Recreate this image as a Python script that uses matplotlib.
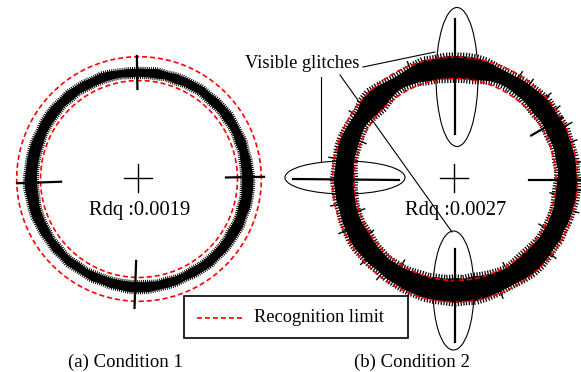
import matplotlib
matplotlib.use('Agg')
import matplotlib.pyplot as plt
import matplotlib.patheffects as pe
import numpy as np
from matplotlib.patches import Ellipse, Rectangle

plt.rcParams['font.family'] = ['Liberation Serif', 'DejaVu Serif']

# ---- data (pixel units, angle 0 = east, counter-clockwise)
angles = np.arange(0, 360, 5)

centers = [(139, 179), (455, 179.5)]            # centre of trace / limit circles
cross_pos = [(138, 178), (454, 178)]
limit_radii = [(98.5, 122.3), (101, 122.5)]     # recognition limit circles
rdq_values = ['0.0019', '0.0027']
captions = ['(a) Condition 1', '(b) Condition 2']

outer_a = [114, 113, 113, 112, 113, 112, 112, 113, 112, 112, 111, 112, 111, 111, 111, 110, 111, 110,
           110, 110, 110, 111, 112, 111, 112, 112, 113, 112, 113, 113, 113, 112, 113, 113, 113, 113,
           114, 114, 113, 113, 113, 112, 112, 111, 112, 111, 112, 111, 111, 112, 111, 112, 112, 113,
           113, 113, 112, 112, 112, 111, 112, 112, 113, 112, 113, 113, 113, 114, 113, 114, 114, 114]
inner_a = [103.5, 103.5, 103.5, 104.5, 103.5, 104.5, 104.5, 103.5, 104.5, 103.5, 103.5, 104.5,
           103.5, 103.5, 102.5, 103.5, 102.5, 102.5, 102.5, 102.5, 103.5, 103.5, 103.5, 103.5,
           103.5, 104.5, 103.5, 104.5, 103.5, 103.5, 103.5, 103.5, 102.5, 102.5, 102.5, 102.5,
           102.5, 102.5, 102.5, 103.5, 103.5, 103.5, 103.5, 104.5, 103.5, 104.5, 104.5, 103.5,
           104.5, 103.5, 103.5, 103.5, 103.5, 103.5, 103.5, 103.5, 104.5, 103.5, 104.5, 104.5,
           103.5, 104.5, 104.5, 104.5, 104.5, 104.5, 103.5, 104.5, 104.5, 103.5, 104.5, 103.5]

outer_b = [122, 121, 122, 121, 121, 122, 121, 121, 122, 121, 120, 120, 119, 119, 120, 122, 123, 123,
           123, 123, 122, 123, 121, 119, 118, 119, 121, 123, 122, 119, 119, 120, 121, 121, 120, 120,
           121, 120, 120, 119, 120, 120, 121, 121, 120, 120, 119, 120, 120, 121, 121, 122, 122, 122,
           123, 122, 123, 122, 121, 120, 120, 121, 122, 122, 121, 120, 121, 120, 121, 121, 122, 122]
inner_b = [103, 104, 103, 104, 104, 103, 104, 104, 103, 104, 105, 105, 106, 106, 105, 103, 101, 101,
           101, 101, 102, 102, 104, 105, 106, 105, 103, 101, 102, 104, 105, 104, 103, 103, 103, 102,
           101, 102, 102, 103, 103, 103, 102, 102, 103, 103, 104, 103, 103, 102, 101, 101, 100, 100,
           99, 100, 99, 100, 101, 102, 103, 102, 101, 101, 102, 103, 103, 103, 103, 103, 102, 102]

# noise spikes on trace (b): angle, r from, r to
spikes_b = [(8, 112, 129), (18, 110, 128), (26, 112, 130), (35, 110, 128), (42, 112, 129),
            (52, 110, 127), (58, 108, 127), (112, 108, 127), (147, 108, 126), (158, 96, 110),
            (170, 110, 128), (192, 108, 127), (198, 95, 108), (205, 110, 128), (212, 96, 108),
            (222, 110, 127), (232, 108, 127), (238, 95, 108), (248, 110, 128), (292, 110, 128),
            (300, 96, 108), (322, 110, 128), (332, 95, 108), (345, 110, 128), (352, 96, 108),
            (355, 112, 130)]

# glitches: angle, r from, r to
glitches_a = [(91, 90, 123), (268, 82, 129), (182, 78, 122), (1, 87, 125)]
glitches_b = [(90, 46, 161), (270, 69, 162), (180, 56, 162), (0, 74, 126), (30, 88, 124)]


def polar(c, ang, r):
    a = np.deg2rad(ang)
    return c[0] + np.asarray(r) * np.cos(a), c[1] - np.asarray(r) * np.sin(a)


fig = plt.figure(figsize=(5.81, 3.72), dpi=100)
ax = fig.add_axes([0, 0, 1, 1])
ax.set_xlim(0, 581)
ax.set_ylim(372, 0)
ax.axis('off')

bands = [(outer_a, inner_a), (outer_b, inner_b)]
glitches = [glitches_a, glitches_b]
fringe = [(1.5, 0.9, 0.7), (2.0, 1.3, 0.9)]    # tick spacing, length, width for ragged edges
ang_c = np.r_[angles, 360]
theta = np.linspace(0, 360, 400)

for i, c in enumerate(centers):
    outer, inner = bands[i]
    xo, yo = polar(c, ang_c, outer + outer[:1])
    xi, yi = polar(c, ang_c, inner + inner[:1])
    ax.fill(np.r_[xo, xi[::-1]], np.r_[yo, yi[::-1]], color='black', lw=0.6, zorder=3)
    sp, ln, tw = fringe[i]
    for (x, y), side in [((xo, yo), -90), ((xi, yi), 90)]:
        ax.plot(x, y, color='none', zorder=3,
                path_effects=[pe.withTickedStroke(spacing=sp, angle=side, length=ln,
                                                  linewidth=tw, foreground='black')])

    for r in limit_radii[i]:
        x, y = polar(c, theta, np.full_like(theta, r))
        ax.plot(x, y, color='red', lw=1.2, ls=(0, (3, 1.8)), zorder=4)

    for ang, r0, r1 in glitches[i]:
        x, y = polar(c, [ang, ang], [r0, r1])
        ax.plot(x, y, color='black', lw=1.6, zorder=5)

    # centre cross
    cx, cy = cross_pos[i]
    ax.plot([cx - 14, cx + 14], [cy, cy], color='black', lw=1.0)
    ax.plot([cx, cx], [cy - 14, cy + 14], color='black', lw=1.0)
    ax.text(cx + 2, cy + 32, 'Rdq :' + rdq_values[i], fontsize=14.8,
            ha='center', va='center', zorder=6)

for x, cap in zip([125.5, 412], captions):
    ax.text(x, 362, cap, fontsize=13.5, ha='center', va='center')

for ang, r0, r1 in spikes_b:
    x, y = polar(centers[1], [ang, ang], [r0, r1])
    ax.plot(x, y, color='black', lw=1.0, zorder=3)

# annotation ellipses around glitches of (b)
for (ex, ey, w, h) in [(457, 77, 42, 139), (345, 177.5, 120, 33), (453.5, 290.5, 41, 119)]:
    ax.add_patch(Ellipse((ex, ey), w, h, fill=False, ec='black', lw=0.8, zorder=6))

ax.text(302, 64, 'Visible glitches', fontsize=13.2, ha='center', va='center')
ax.plot([363, 435], [67, 52], color='black', lw=0.8)
ax.plot([321, 321], [77, 161], color='black', lw=0.8)
ax.plot([340, 452], [75, 232], color='black', lw=0.8)

# legend box
ax.add_patch(Rectangle((184, 296), 224, 42, fc='white', ec='none', zorder=5.5))
ax.add_patch(Rectangle((184, 296), 224, 42, fill=False, ec='black', lw=1.2, zorder=6))
ax.plot([197, 245], [318, 318], color='red', lw=1.2, ls=(0, (3, 1.8)), zorder=7)
ax.text(254, 318, 'Recognition limit', fontsize=13.2, ha='left', va='center', zorder=7)

fig.savefig('out.png', dpi=100)
